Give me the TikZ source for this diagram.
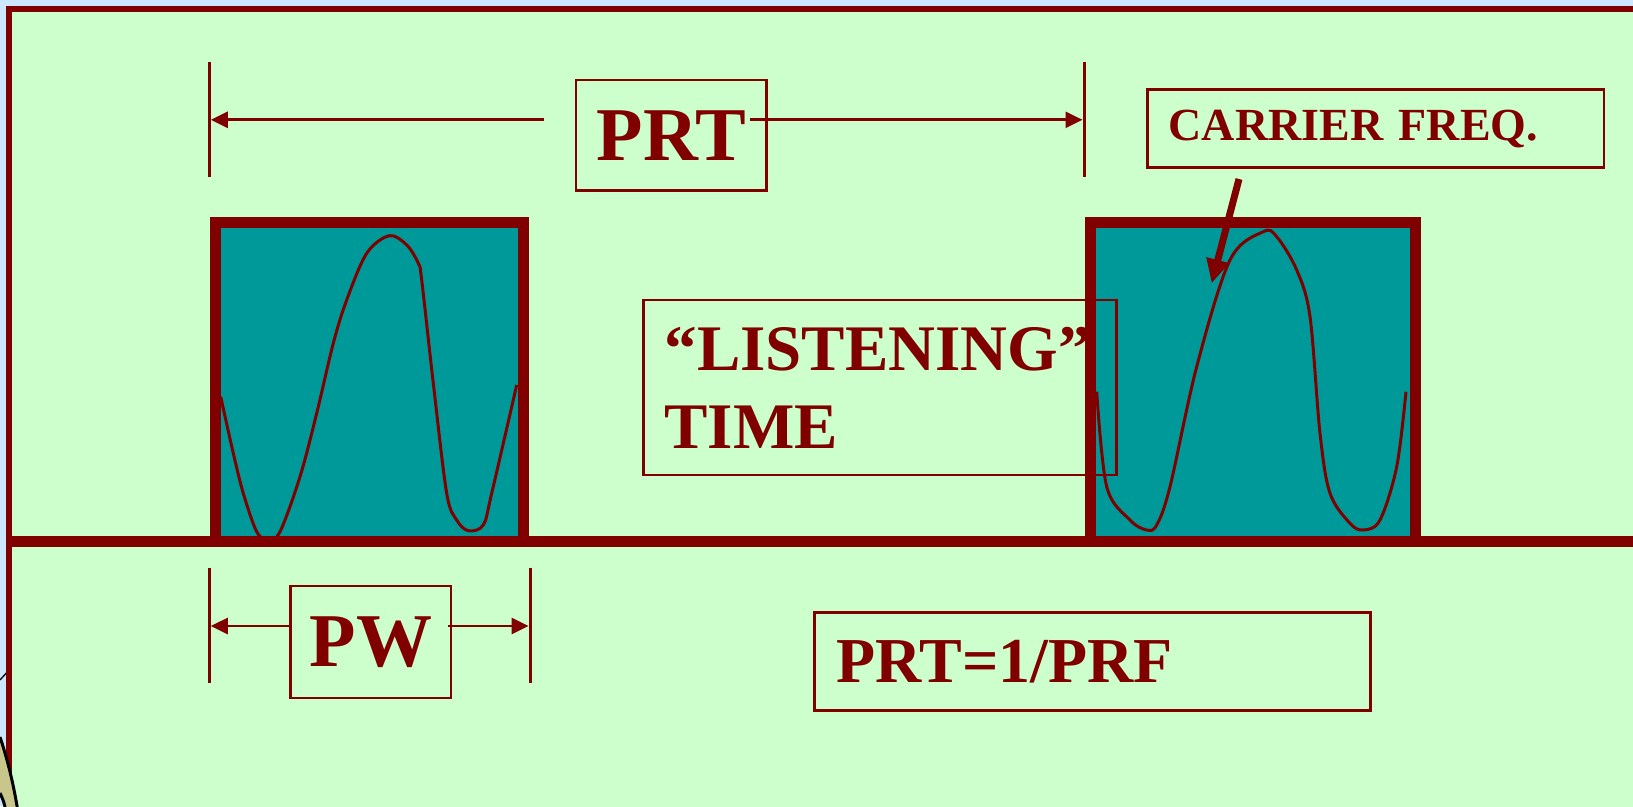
\documentclass[tikz,border=0pt]{standalone}
\usepackage{fontspec}
\setmainfont{Liberation Serif}
\usepackage{xcolor}
\usepackage{tikz}
\usetikzlibrary{arrows.meta}

\definecolor{wine}{HTML}{800000}
\definecolor{pulseteal}{HTML}{009999}
\definecolor{slidegreen}{HTML}{CCFFCC}
\definecolor{pageblue}{HTML}{CCE8FF}
\definecolor{clipkhaki}{HTML}{C9C68B}

\begin{document}
\begin{tikzpicture}[x=1pt, y=-1pt,
  labelbox/.style={draw=wine, line width=2.6pt, text=wine, inner sep=0pt},
  leftbox/.style={labelbox, align=left, inner xsep=21pt},
  dim/.style={wine, line width=2.8pt, -{Triangle[length=17pt,width=16pt]}},
  tick/.style={wine, line width=3pt},
  pulse/.style={draw=wine, line width=10.7pt},
  wave/.style={wine, line width=3pt}]

  \useasboundingbox (0,0) rectangle (1633,806);
  \clip (0,0) rectangle (1633,806);
  \fill[pageblue] (0,0) rectangle (1633,806);
  \draw[black, line width=1.3pt] (0,680) -- (10,669);

  % slide frame and time axis
  \filldraw[fill=slidegreen, draw=wine, line width=6pt] (9,9) rectangle (1700,900);

  % pulse bodies
  \fill[pulseteal] (215.5,222.8) rectangle (523.7,541);
  \fill[pulseteal] (1090.5,222.5) rectangle (1415.5,541);

  \node[leftbox, text width=431pt, minimum width=473pt, minimum height=175pt,
        font=\bfseries\fontsize{65}{78}\selectfont] (listen) at (880,387.5)
        {“LISTENING”\\TIME};

  % pulse outlines
  \draw[pulse, line cap=rect] (215.5,541) -- (215.5,222.8) -- (523.7,222.8) -- (523.7,541);
  \draw[pulse, line cap=rect] (1090.5,541) -- (1090.5,222.5) -- (1415.5,222.5) -- (1415.5,541);

  % carrier inside each pulse
  \draw[wave] plot[smooth, tension=0.55] coordinates {
    (220.7,396.7) (233.3,453.3) (243.3,493.3) (256.7,531.7) (268,540)
    (280,531.7) (300,476.7) (316.7,413.3) (333.3,343.3) (346.7,300)
    (366.7,253.3) (389.3,235.7) (406.7,245) (418.3,263.3) (421.7,280)
    (433.3,383.3) (446.7,493.3) (456.7,520) (468.3,530.7) (483.3,525)
    (491.7,493.3) (516.7,385)};
  \draw[wave] plot[smooth, tension=0.55] coordinates {
    (1096.7,391.7) (1106.7,486.7) (1130,520) (1146.7,530) (1156.7,525)
    (1170,486.7) (1196.7,366.7) (1230,260) (1263.3,231.7) (1276.7,236.7)
    (1296.7,270) (1310,316.7) (1320,433.3) (1330,493.3) (1350,523.3)
    (1363.3,530) (1380,520) (1396.7,466.7) (1406,391.7)};

  \draw[wine, line width=11pt] (12,541.3) -- (1700,541.3);

  % PRT dimension
  \draw[tick] (209.3,62) -- (209.3,177);
  \draw[tick] (1084,62) -- (1084,177);
  \node[labelbox, minimum width=190.5pt, minimum height=110.6pt,
        font=\bfseries\fontsize{76}{80}\selectfont] (prt) at (671.3,135.3) {PRT};
  \coordinate (prtleft) at (543.7,119.8);
  \coordinate (prtright) at (750,119.8);
  \coordinate (prtstart) at (210.8,119.8);
  \coordinate (prtend) at (1082.5,119.8);
  \draw[dim] (prtleft) -- (prtstart);
  \draw[dim] (prtright) -- (prtend);

  % PW dimension
  \draw[tick] (209.3,567.6) -- (209.3,683);
  \draw[tick] (530,567.6) -- (530,683);
  \node[labelbox, minimum width=160.4pt, minimum height=111.8pt,
        font=\bfseries\fontsize{76}{80}\selectfont] (pw) at (370.8,641.9) {PW};
  \coordinate (pwleft) at (289.5,626);
  \coordinate (pwright) at (447.8,626);
  \coordinate (pwstart) at (210.8,626);
  \coordinate (pwend) at (528.5,626);
  \draw[dim] (pwleft) -- (pwstart);
  \draw[dim] (pwright) -- (pwend);

  % carrier callout
  \node[leftbox, text width=414.3pt, minimum width=456.3pt, minimum height=78pt,
        font=\bfseries\fontsize{46}{52}\selectfont] (carrier) at (1375.9,128.7)
        {CARRIER FREQ.};
  \coordinate (carriertail) at (1239,179);
  \coordinate (carriertip) at (1211.7,283.3);
  \draw[wine, line width=7pt, -{Triangle[length=24pt,width=22pt]}] (carriertail) -- (carriertip);

  \node[leftbox, inner xsep=22pt, text width=512pt, minimum width=556pt, minimum height=98pt,
        font=\bfseries\fontsize{64}{70}\selectfont] (formula) at (1092.5,661.3)
        {PRT=1/PRF};

  % clipped artwork at the lower left
  \fill[clipkhaki] (0,737) .. controls (6,755) and (13,780) .. (18,812) -- (6,812)
    .. controls (4,802) .. (0,793) -- cycle;
  \draw[black, line width=3pt] (0,737) .. controls (6,755) and (13,780) .. (18,812);
  \draw[black, line width=3pt] (0,793) .. controls (4,802) .. (6,812);
\end{tikzpicture}
\end{document}
